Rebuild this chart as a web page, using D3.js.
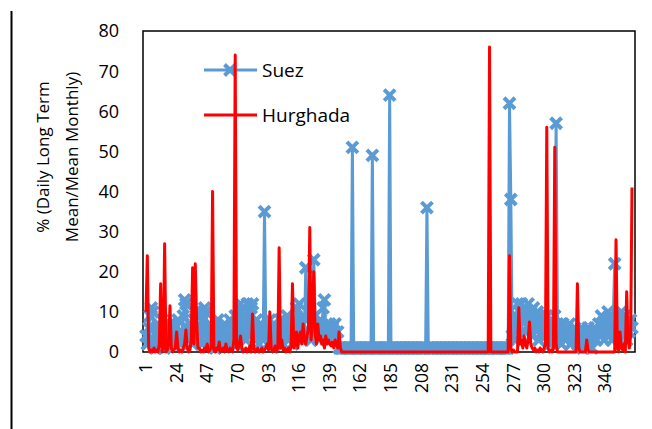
<!DOCTYPE html>
<html>
<head>
<meta charset="utf-8">
<script src="https://cdn.jsdelivr.net/npm/d3@7"></script>
<style>
  body { margin: 0; background: #fff; }
  svg { display: block; font-family: "Open Sans", "Noto Sans", sans-serif; }
</style>
</head>
<body>
<div id="chart"></div>
<script>
// day index 1..366
const days = d3.range(1, 367);
const tickDays = [1, 24, 47, 70, 93, 116, 139, 162, 185, 208, 231, 254, 277, 300, 323, 346];
const yTicks = [0, 10, 20, 30, 40, 50, 60, 70, 80];
const seriesNames = ["Suez", "Hurghada"];

// Suez
const suez = [
  4, 2, 6, 9, 11, 10, 3, 1, 5, 7, 2, 4, 8, 3, 1, 6, 4, 2, 7, 3,
  5, 2, 6, 3, 8, 4, 2, 5, 9, 13, 12, 6, 3, 7, 4, 2, 8, 10, 9, 4,
  3, 6, 2, 8, 11, 10, 5, 3, 7, 2, 4, 6, 1, 5, 8, 3, 2, 6, 4, 7,
  3, 5, 2, 8, 4, 6, 3, 9, 2, 5, 7, 12, 10, 4, 6, 3, 12, 8, 5, 11,
  12, 6, 3, 8, 4, 2, 7, 5, 3, 35, 4, 6, 2, 8, 3, 5, 7, 2, 6, 4,
  3, 8, 5, 2, 6, 4, 9, 3, 7, 5, 2, 6, 8, 11, 4, 12, 7, 3, 9, 5,
  21, 8, 10, 5, 3, 7, 23, 9, 4, 6, 3, 8, 5, 11, 13, 4, 6, 3, 7, 5,
  6, 4, 7, 3, 5, 1, 1, 1, 1, 1, 1, 1, 1, 1, 1, 51, 1, 1, 1, 1,
  1, 1, 1, 1, 1, 1, 1, 1, 1, 1, 49, 1, 1, 1, 1, 1, 1, 1, 1, 1,
  1, 1, 1, 64, 1, 1, 1, 1, 1, 1, 1, 1, 1, 1, 1, 1, 1, 1, 1, 1,
  1, 1, 1, 1, 1, 1, 1, 1, 1, 1, 1, 36, 1, 1, 1, 1, 1, 1, 1, 1,
  1, 1, 1, 1, 1, 1, 1, 1, 1, 1, 1, 1, 1, 1, 1, 1, 1, 1, 1, 1,
  1, 1, 1, 1, 1, 1, 1, 1, 1, 1, 1, 1, 1, 1, 1, 1, 1, 1, 1, 1,
  1, 1, 1, 1, 1, 1, 1, 1, 1, 1, 1, 1, 1, 62, 38, 4, 7, 3, 9, 12,
  6, 10, 12, 8, 11, 5, 9, 12, 7, 10, 4, 11, 8, 6, 10, 3, 9, 7, 5, 8,
  4, 9, 6, 2, 8, 5, 3, 9, 57, 7, 4, 6, 2, 7, 5, 3, 6, 4, 7, 2,
  5, 3, 6, 4, 2, 5, 3, 6, 1, 4, 5, 2, 6, 3, 5, 1, 4, 6, 3, 5,
  7, 4, 9, 6, 3, 8, 5, 10, 4, 7, 3, 9, 22, 6, 5, 8, 3, 10, 6, 4,
  9, 3, 7, 5, 8, 6
];

// Hurghada
const hurghada = [
  10, 24, 1, 0, 0.5, 0, 1, 0, 0.5, 0, 2, 17, 0, 1, 27, 0, 0.5, 2, 11.5, 1,
  0, 0.5, 1, 5, 1, 0, 0.5, 0, 1, 2, 5.5, 1, 0, 0.5, 3, 21, 2, 22, 8, 1,
  1, 0, 0.5, 0, 1, 0.5, 2, 0, 0.5, 1, 40, 0.5, 0, 1, 0.5, 2.5, 0, 0.5, 1, 0,
  2, 0.5, 0, 1, 0.5, 0, 3, 74, 1, 0.5, 2, 4, 1, 0, 0.5, 1, 0, 0.5, 1.5, 0,
  9.5, 1, 0, 0.5, 1, 0, 0.5, 1, 0, 0.5, 1, 2, 0.5, 10, 1, 0, 0.5, 1.5, 0, 1,
  26, 1, 3, 0.5, 1, 0, 0.5, 1, 0, 1.5, 17, 1, 2, 5, 1, 4, 5, 2, 7, 3,
  2, 4, 6, 31, 3, 8, 20, 5, 2, 7, 3, 4, 2, 3, 1, 4, 2, 3, 2, 1.5,
  2.5, 1, 3, 2, 1, 5, 1, 0, 0, 0, 0, 0, 0, 0, 0, 0, 0, 0, 0, 0,
  0, 0, 0, 0, 0, 0, 0, 0, 0, 0, 0, 0, 0, 0, 0, 0, 0, 0, 0, 0,
  0, 0, 0, 0, 0, 0, 0, 0, 0, 0, 0, 0, 0, 0, 0, 0, 0, 0, 0, 0,
  0, 0, 0, 0, 0, 0, 0, 0, 0, 0, 0, 0, 0, 0, 0, 0, 0, 0, 0, 0,
  0, 0, 0, 0, 0, 0, 0, 0, 0, 0, 0, 0, 0, 0, 0, 0, 0, 0, 0, 0,
  0, 0, 0, 0, 0, 0, 0, 0, 0, 0, 0, 0, 0, 0, 0, 0, 0, 0, 76, 0,
  0, 0, 0, 0, 0, 0, 0, 0, 0, 0, 0, 0, 0, 24, 1, 0, 0.5, 0, 0, 0,
  11, 2, 3, 1, 4, 2, 1, 3, 7.5, 2, 1, 0.5, 1, 0, 0.5, 0, 1, 0.5, 0, 1,
  2, 56, 1, 0, 0.5, 0, 1, 51, 2, 0, 0, 0, 0, 0, 0, 0, 0, 0, 0, 0,
  0, 0, 0, 0, 17, 1, 0, 0, 0, 0, 0, 3, 0.5, 0, 0, 0, 0, 0, 0, 0,
  0, 0, 0, 0, 0, 0, 0, 0, 0, 0, 0, 0, 0, 28, 1, 0, 5, 1, 0.5, 2,
  0, 15, 3, 1, 4, 41
];

const W = 652, H = 429;
const plot = { left: 143, right: 635, top: 31, bottom: 352 };
const blue = "#5B9BD5", red = "#FF0000";
const xMark = "M-5.5,-5.5L5.5,5.5M-5.5,5.5L5.5,-5.5";

const svg = d3.select("#chart").append("svg")
  .attr("width", W)
  .attr("height", H);

const x = d3.scalePoint()
  .domain(days)
  .range([146, 632]);

const y = d3.scaleLinear()
  .domain([0, 80])
  .range([plot.bottom, plot.top]);

// outer left rule of the figure
svg.append("line")
  .attr("x1", 11.5).attr("x2", 11.5)
  .attr("y1", 11).attr("y2", H)
  .attr("stroke", "#000").attr("stroke-width", 2);

// y tick labels
svg.append("g")
  .selectAll("text")
  .data(yTicks)
  .join("text")
  .attr("x", 119)
  .attr("y", d => y(d))
  .attr("dy", "0.36em")
  .attr("text-anchor", "end")
  .attr("font-size", 18)
  .attr("fill", "#000")
  .text(d => d);

// x tick labels (rotated)
svg.append("g")
  .selectAll("text")
  .data(tickDays)
  .join("text")
  .attr("transform", d => `translate(${x(d)},363) rotate(-90)`)
  .attr("dy", "0.35em")
  .attr("text-anchor", "end")
  .attr("font-size", 17.5)
  .attr("fill", "#000")
  .text(d => d);

// y axis title
const title = svg.append("text")
  .attr("transform", "translate(0,157) rotate(-90)")
  .attr("text-anchor", "middle")
  .attr("font-size", 17)
  .attr("fill", "#000");
title.append("tspan").attr("x", 0).attr("y", 49).text("% (Daily Long Term");
title.append("tspan").attr("x", 0).attr("y", 78).text("Mean/Mean Monthly)");

// legend
const legend = svg.append("g");
legend.append("line")
  .attr("x1", 204).attr("x2", 257).attr("y1", 70).attr("y2", 70)
  .attr("stroke", blue).attr("stroke-width", 3);
legend.append("path")
  .attr("transform", "translate(230,70)")
  .attr("d", xMark)
  .attr("stroke", blue).attr("stroke-width", 4);
legend.append("line")
  .attr("x1", 204).attr("x2", 257).attr("y1", 115).attr("y2", 115)
  .attr("stroke", red).attr("stroke-width", 3);
legend.selectAll("text")
  .data(seriesNames)
  .join("text")
  .attr("x", 262)
  .attr("y", (d, i) => 70 + i * 45)
  .attr("dy", "0.35em")
  .attr("font-size", 19)
  .attr("fill", "#000")
  .text(d => d);

// plot frame
svg.append("rect")
  .attr("x", plot.left).attr("y", plot.top)
  .attr("width", plot.right - plot.left)
  .attr("height", plot.bottom - plot.top)
  .attr("fill", "none")
  .attr("stroke", "#000")
  .attr("stroke-width", 1.5);

const line = d3.line()
  .x((d, i) => x(days[i]))
  .y(d => y(d));

// Suez line + x markers
svg.append("path")
  .datum(suez)
  .attr("fill", "none")
  .attr("stroke", blue)
  .attr("stroke-width", 3)
  .attr("stroke-linejoin", "round")
  .attr("d", line);

svg.append("g")
  .selectAll("path")
  .data(suez)
  .join("path")
  .attr("transform", (d, i) => `translate(${x(days[i])},${y(d)})`)
  .attr("d", xMark)
  .attr("stroke", blue)
  .attr("stroke-width", 4);

// Hurghada line
svg.append("path")
  .datum(hurghada)
  .attr("fill", "none")
  .attr("stroke", red)
  .attr("stroke-width", 3)
  .attr("stroke-linejoin", "round")
  .attr("d", line);
</script>
</body>
</html>
